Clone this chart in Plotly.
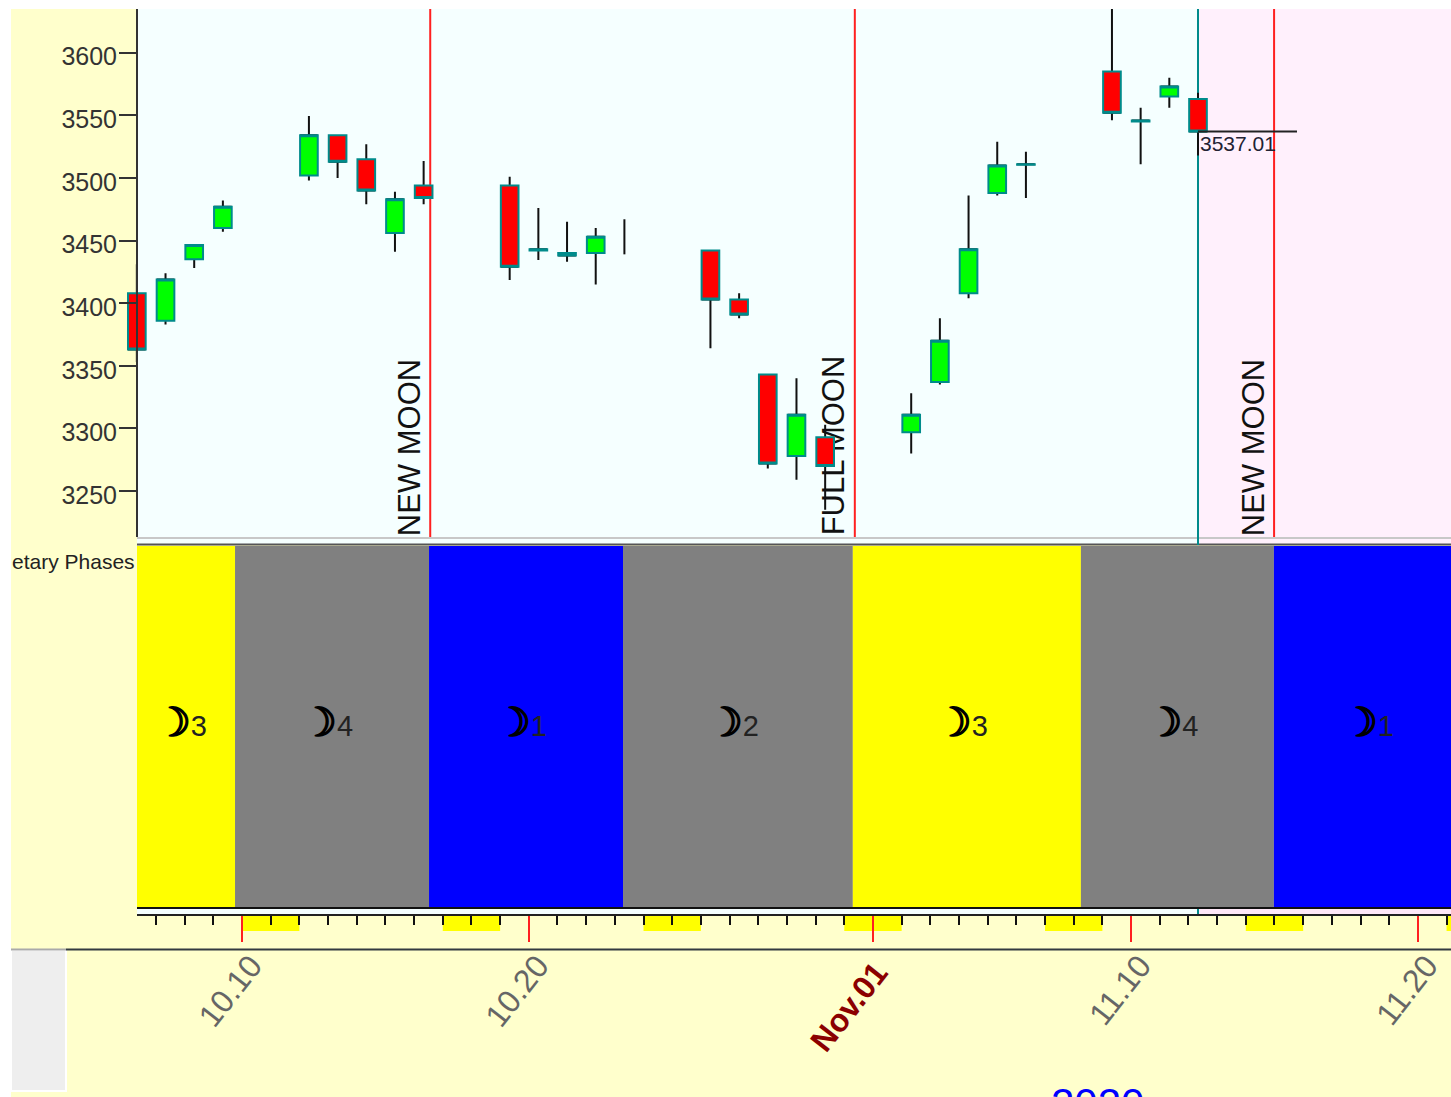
import pandas as pd
import plotly.graph_objects as go

# ---------- data ----------
dates = ["2020-10-06","2020-10-07","2020-10-08","2020-10-09",
         "2020-10-12","2020-10-13","2020-10-14","2020-10-15","2020-10-16",
         "2020-10-19","2020-10-20","2020-10-21","2020-10-22","2020-10-23",
         "2020-10-26","2020-10-27","2020-10-28","2020-10-29","2020-10-30",
         "2020-11-02","2020-11-03","2020-11-04","2020-11-05","2020-11-06",
         "2020-11-09","2020-11-10","2020-11-11","2020-11-12"]
opens  = [3408,3386,3435,3460,3502,3534,3515,3456,3494,3494,3442.0,3440,3440,None,3442,3403,3343,3278,3293,3297,3337,3408,3488,3510.5,3585,3545.0,3565,3563]
closes = [3363,3419,3446.5,3477,3534,3513,3490,3483,3484,3429,3443.0,3438,3453,None,3403,3391,3272,3311,3270,3311,3370,3443,3510,3511.0,3552,3545.8,3573,3537.01]
highs  = [3431,3424,3446.5,3482,3549.5,3534,3527,3489,3513.5,3501,3476,3465,3460,3467,3442,3408,3343,3340,3303,3328,3388,3486,3529,3521,3665,3556,3580,3568]
lows   = [3353,3383,3428,3457,3498,3500,3479,3441,3479,3418.5,3434.5,3433,3415,3439,3364,3388,3268,3259,3235,3280,3335,3404,3486,3484,3546,3511,3556,3518]

phase_starts = ["2020-10-06 08:08","2020-10-09 18:10","2020-10-16 12:30","2020-10-23 06:50",
                "2020-10-31 07:10","2020-11-08 06:00","2020-11-14 23:30"]
phase_ends   = ["2020-10-09 18:10","2020-10-16 12:30","2020-10-23 06:50","2020-10-31 07:10",
                "2020-11-08 06:00","2020-11-14 23:30","2020-11-21 21:20"]
phase_numbers = [3,4,1,2,3,4,1]
phase_colors  = ["#ffff00","#808080","#0000ff","#808080","#ffff00","#808080","#0000ff"]

moon_dates  = ["2020-10-16 13:31","2020-10-31 08:49","2020-11-14 23:40"]
moon_labels = ["NEW MOON","FULL MOON","NEW MOON"]

weekend_starts = ["2020-10-10","2020-10-17","2020-10-24","2020-10-31","2020-11-07","2020-11-14","2020-11-21"]

tick_dates  = ["2020-10-10","2020-10-20","2020-11-01","2020-11-10","2020-11-20"]
tick_labels = ["10.10","10.20","<b><span style='color:#8b0000'>Nov.01&nbsp;</span></b>","11.10","11.20"]
y_ticks = [3250,3300,3350,3400,3450,3500,3550,3600]

last_end = "2020-11-15 18:50"
year_label = "2020"
side_label = "etary Phases"

# ---------- layout helpers ----------
W, H = 1451, 1097
FONT = "Liberation Sans, Arial, sans-serif"
px = lambda p: p / W
py = lambda p: 1 - p / H
DAY = pd.Timedelta(days=1)
T0 = pd.Timestamp("2020-10-10")
PX_PER_DAY = 28.68
date_at = lambda p: T0 + DAY * ((p - 242) / PX_PER_DAY)
dt = pd.to_datetime(dates) + pd.Timedelta(hours=8)      # sessions sit ahead of the midnight ticks
last_x = dt[-1]

def rect(x0, x1, y0, y1, color, **kw):
    return dict(type="rect", xref="paper", yref="paper", x0=px(x0), x1=px(x1), y0=py(y0), y1=py(y1),
                fillcolor=color, line=dict(width=0), layer="below", **kw)

shapes = [
    rect(11, W, 9, H, "#ffffcc"),
    dict(type="rect", xref="x", yref="paper", x0=date_at(137), x1=last_x, y0=py(9), y1=py(545),
         fillcolor="#f5ffff", line=dict(width=0), layer="below"),
    dict(type="rect", xref="x", yref="paper", x0=last_x, x1=date_at(W), y0=py(9), y1=py(545),
         fillcolor="#fff0fc", line=dict(width=0), layer="below"),
    dict(type="rect", xref="x", yref="paper", x0=date_at(137), x1=last_x, y0=py(907), y1=py(915),
         fillcolor="#f5ffff", line=dict(width=0), layer="below"),
    dict(type="rect", xref="x", yref="paper", x0=last_x, x1=date_at(W), y0=py(907), y1=py(915),
         fillcolor="#ffe8f8", line=dict(width=0), layer="below"),
    rect(137, W, 537, 539, "#c8c8c8"),
    rect(137, W, 543.5, 545.5, "#555555"),
    dict(type="line", xref="x", yref="paper", x0=last_x, x1=last_x, y0=py(9), y1=py(545),
         line=dict(color="#008b8b", width=2), layer="below"),
    dict(type="line", xref="x", yref="paper", x0=last_x, x1=last_x, y0=py(908), y1=py(915),
         line=dict(color="#008b8b", width=2), layer="below"),
    dict(type="rect", xref="paper", yref="paper", x0=px(11), x1=px(66), y0=py(950), y1=py(1091),
         fillcolor="#eeeeee", line=dict(color="#ffffff", width=2), layer="below"),
    dict(type="line", xref="paper", yref="paper", x0=px(11), x1=px(66), y0=py(949.5), y1=py(949.5),
         line=dict(color="#aaaaaa", width=2), layer="below"),
    dict(type="line", xref="paper", yref="paper", x0=px(66), x1=1, y0=py(949.5), y1=py(949.5),
         line=dict(color="#333a40", width=2), layer="below"),
]
label_tops = [359, 355, 359]
for d, lab, top in zip(moon_dates, moon_labels, label_tops):
    md = pd.Timestamp(d)
    shapes.append(dict(type="line", xref="x", yref="paper", x0=md, x1=md, y0=py(9), y1=py(537),
                       line=dict(color="#ff2020", width=2), layer="below"))
    shapes.append(dict(type="rect", xref="x", yref="paper",
                       x0=md - DAY * (44 / PX_PER_DAY), x1=md - DAY * (4 / PX_PER_DAY),
                       y0=py(536), y1=py(top), line=dict(width=0), fillcolor="rgba(0,0,0,0)", layer="below",
                       label=dict(text=lab, textangle=-90, textposition="middle center",
                                  font=dict(family=FONT, size=31, color="#111111"))))

fig = go.Figure()

# wicks: the flat box of this trace stays hidden behind the body trace
has_body = [o is not None for o in opens]
wick_mid = [c if b else None for c, b in zip(closes, has_body)]
fig.add_trace(go.Candlestick(x=dt, open=wick_mid, close=wick_mid,
                             high=[h if b else None for h, b in zip(highs, has_body)],
                             low=[l if b else None for l, b in zip(lows, has_body)],
                             increasing=dict(line=dict(color="#111111", width=2), fillcolor="#111111"),
                             decreasing=dict(line=dict(color="#111111", width=2), fillcolor="#111111"),
                             showlegend=False, hoverinfo="skip", xaxis="x", yaxis="y"))
# wick-only sessions
wx, wy = [], []
for d, h, l, b in zip(dt, highs, lows, has_body):
    if not b:
        wx += [d, d, None]
        wy += [l, h, None]
fig.add_trace(go.Scatter(x=wx, y=wy, mode="lines", line=dict(color="#111111", width=2),
                         hoverinfo="skip", showlegend=False, xaxis="x", yaxis="y"))
# bodies
body_hi = [None if o is None else max(o, c) for o, c in zip(opens, closes)]
body_lo = [None if o is None else min(o, c) for o, c in zip(opens, closes)]
fig.add_trace(go.Candlestick(x=dt, open=opens, high=body_hi, low=body_lo, close=closes,
                             increasing=dict(line=dict(color="#008b8b", width=2), fillcolor="#00ff00"),
                             decreasing=dict(line=dict(color="#008b8b", width=2), fillcolor="#ff0000"),
                             showlegend=False, xaxis="x", yaxis="y"))
# last price line
fig.add_trace(go.Scatter(x=[last_x, last_end], y=[closes[-1], closes[-1]], mode="lines",
                         line=dict(color="#222222", width=2), showlegend=False, hoverinfo="skip",
                         xaxis="x", yaxis="y"))

# planetary phases
ps = pd.to_datetime(phase_starts)
pe = pd.to_datetime(phase_ends)
widths = [(b - a).total_seconds() * 1000 for a, b in zip(ps, pe)]
fig.add_trace(go.Bar(x=ps, y=[1] * len(ps), width=widths, offset=0, marker=dict(color=phase_colors, line=dict(width=0)),
                     showlegend=False, hoverinfo="skip", xaxis="x2", yaxis="y2"))
mids = [a + (b - a) / 2 - DAY * (5 / PX_PER_DAY) for a, b in zip(ps, pe)]
MOON = ('<span style="font-family:DejaVu Sans;font-size:40px;color:#000000;'
        'stroke:#000000;stroke-width:1.6px">\u263d</span>')
fig.add_trace(go.Scatter(x=mids, y=[0.495] * len(ps), mode="text",
                         text=[f"{MOON}{n}" for n in phase_numbers],
                         textfont=dict(family="Liberation Sans, DejaVu Sans", size=29, color="#222222"),
                         textposition="middle center", showlegend=False, hoverinfo="skip",
                         xaxis="x2", yaxis="y2"))
# weekends
fig.add_trace(go.Bar(x=pd.to_datetime(weekend_starts), y=[1] * len(weekend_starts),
                     width=[2 * 86400000] * len(weekend_starts), offset=0,
                     marker=dict(color="#ffff00", line=dict(width=0)), showlegend=False, hoverinfo="skip",
                     xaxis="x3", yaxis="y3"))

fig.update_layout(
    width=W, height=H, margin=dict(l=0, r=0, t=0, b=0), autosize=False,
    paper_bgcolor="#ffffff", plot_bgcolor="rgba(0,0,0,0)",
    font=dict(family=FONT, color="#333333"), showlegend=False, boxgap=0.12,
    shapes=shapes,
    xaxis=dict(domain=[px(120), 1], range=[date_at(120), date_at(W)], type="date", visible=False,
               rangeslider=dict(visible=False), anchor="y"),
    yaxis=dict(domain=[py(537), py(9)], range=[3213.3, 3634.9], anchor="free", position=px(137),
               tickvals=y_ticks, ticks="outside", ticklen=17, tickwidth=2, tickcolor="#333333",
               showline=True, linecolor="#333333", linewidth=2, showgrid=False, zeroline=False,
               ticklabelstandoff=-3, ticklabelshift=4,
               tickfont=dict(family=FONT, size=25, color="#333333")),
    xaxis2=dict(domain=[px(137), 1], range=[date_at(137), date_at(W)], type="date", anchor="y2",
                showticklabels=False, ticks="", showline=True, linecolor="#111111", linewidth=2, showgrid=False),
    yaxis2=dict(domain=[py(907), py(546)], range=[0, 1], anchor="x2", visible=False),
    xaxis3=dict(domain=[px(137), 1], range=[date_at(137), date_at(W)], type="date",
                anchor="free", position=py(915), side="bottom", showgrid=False,
                showline=True, linecolor="#222222", linewidth=2,
                tickmode="array", tickvals=tick_dates, ticktext=tick_labels, tickangle=-52,
                ticks="outside", ticklen=26, tickwidth=2, tickcolor="#ff2020",
                tickfont=dict(family=FONT, size=32, color="#666666"), ticklabelstandoff=-8, ticklabelshift=9,
                ticklabeloverflow="allow",
                minor=dict(tickmode="linear", tick0="2020-10-10", dtick=86400000, ticks="outside",
                           ticklen=9, tickwidth=2, tickcolor="#111111", showgrid=False)),
    yaxis3=dict(domain=[py(931), py(915)], range=[0, 1], anchor="x3", visible=False),
    annotations=[
        dict(xref="x", yref="y", x=last_x, y=closes[-1], xanchor="left", yanchor="top", xshift=0, yshift=2,
             text=f"{closes[-1]:.2f}", showarrow=False, font=dict(family=FONT, size=21, color="#222233")),
        dict(xref="paper", yref="paper", x=px(137), y=py(561), xanchor="right", yanchor="middle",
             text=side_label, showarrow=False, font=dict(family=FONT, size=21, color="#222222")),
        dict(xref="paper", yref="paper", x=px(1097), y=py(1078), xanchor="center", yanchor="top",
             text=year_label, showarrow=False, font=dict(family=FONT, size=42, color="#0000ff")),
    ],
)

fig.write_html("out.html", config=dict(displayModeBar=False),
               post_script="document.body.style.margin='0';document.body.style.overflow='hidden';")
